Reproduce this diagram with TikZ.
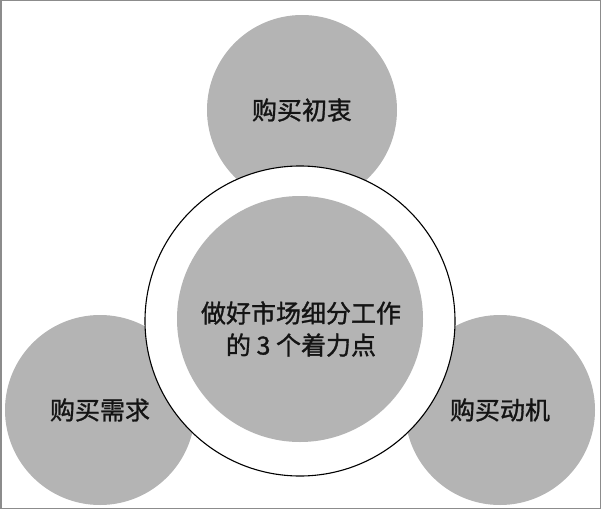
\documentclass[tikz,border=0pt]{standalone}
\usepackage{fontspec}
\newfontfamily\cjk[FakeBold=1.2]{Noto Sans CJK SC}
\definecolor{circgray}{RGB}{180,180,180}
\definecolor{framegray}{RGB}{140,140,140}
\definecolor{txt}{RGB}{20,20,20}
\tikzset{
  outer/.style={circle, fill=circgray, minimum size=190pt, inner sep=0pt,
    font=\cjk\fontsize{25}{30}\selectfont, text=txt},
  ring/.style={circle, fill=white, draw=black, line width=1.1pt, minimum size=310pt, inner sep=0pt},
  core/.style={circle, fill=circgray, minimum size=246pt, inner sep=0pt},
  coretxt/.style={inner sep=0pt, font=\cjk\fontsize{25}{32}\selectfont, text=txt, align=center},
}
\begin{document}
\begin{tikzpicture}[x=1pt,y=-1pt]
\useasboundingbox (0,0) rectangle (602,511);
\draw[framegray, line width=1.5pt] (0.75,0.75) rectangle (600.5,508.5);
\node[outer] (top) at (302,110) {购买初衷};
\node[outer] (left) at (100,410) {购买需求};
\node[outer] (right) at (500,410) {购买动机};
\node[ring] (ring) at (300,321) {};
\node[core] (core) at (300,319) {};
\node[coretxt] (coretext) at (301,329) {做好市场细分工作\\的 3 个着力点};
\end{tikzpicture}
\end{document}
